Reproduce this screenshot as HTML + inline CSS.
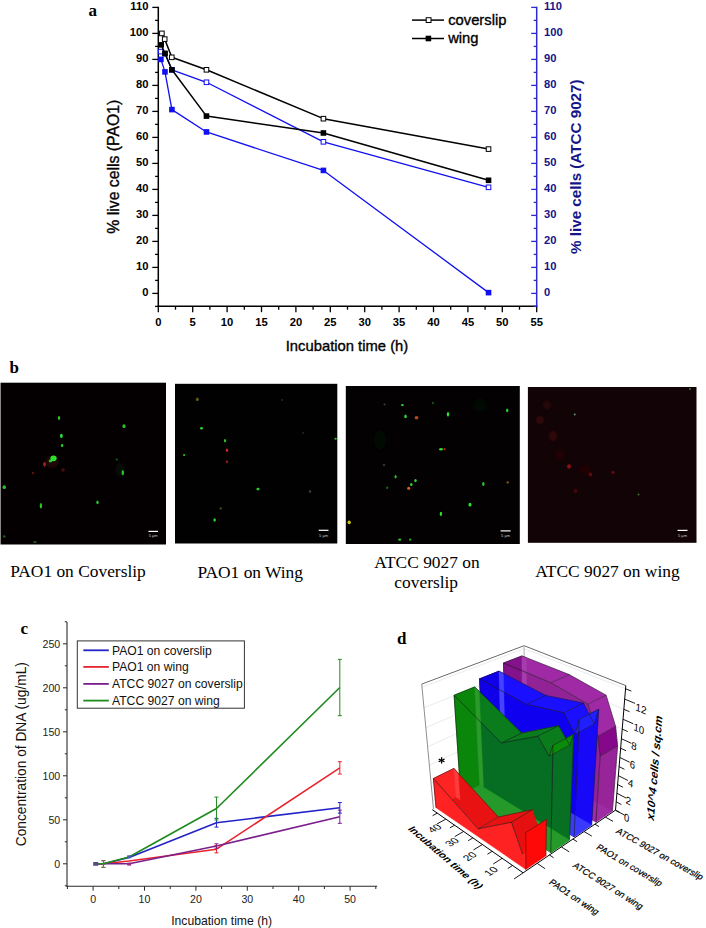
<!DOCTYPE html>
<html><head><meta charset="utf-8"><style>
html,body{margin:0;padding:0;background:#fff;}
body{width:706px;height:928px;overflow:hidden;}
svg{display:block;}
</style></head><body>
<svg width="706" height="928" viewBox="0 0 706 928">
<rect x="0" y="0" width="706" height="928" fill="#fff"/>
<text x="88.60" y="16.30" font-family="Liberation Serif, serif" font-size="17" font-weight="bold" font-style="normal" fill="#000" text-anchor="start" >a</text>
<line x1="158.30" y1="6.70" x2="158.30" y2="306.90" stroke="#000" stroke-width="1.5" />
<line x1="155.10" y1="306.40" x2="158.30" y2="306.40" stroke="#000" stroke-width="1.3" />
<line x1="152.30" y1="293.40" x2="158.30" y2="293.40" stroke="#000" stroke-width="1.3" />
<line x1="155.10" y1="280.40" x2="158.30" y2="280.40" stroke="#000" stroke-width="1.3" />
<line x1="152.30" y1="267.40" x2="158.30" y2="267.40" stroke="#000" stroke-width="1.3" />
<line x1="155.10" y1="254.40" x2="158.30" y2="254.40" stroke="#000" stroke-width="1.3" />
<line x1="152.30" y1="241.40" x2="158.30" y2="241.40" stroke="#000" stroke-width="1.3" />
<line x1="155.10" y1="228.40" x2="158.30" y2="228.40" stroke="#000" stroke-width="1.3" />
<line x1="152.30" y1="215.40" x2="158.30" y2="215.40" stroke="#000" stroke-width="1.3" />
<line x1="155.10" y1="202.40" x2="158.30" y2="202.40" stroke="#000" stroke-width="1.3" />
<line x1="152.30" y1="189.40" x2="158.30" y2="189.40" stroke="#000" stroke-width="1.3" />
<line x1="155.10" y1="176.40" x2="158.30" y2="176.40" stroke="#000" stroke-width="1.3" />
<line x1="152.30" y1="163.40" x2="158.30" y2="163.40" stroke="#000" stroke-width="1.3" />
<line x1="155.10" y1="150.40" x2="158.30" y2="150.40" stroke="#000" stroke-width="1.3" />
<line x1="152.30" y1="137.40" x2="158.30" y2="137.40" stroke="#000" stroke-width="1.3" />
<line x1="155.10" y1="124.40" x2="158.30" y2="124.40" stroke="#000" stroke-width="1.3" />
<line x1="152.30" y1="111.40" x2="158.30" y2="111.40" stroke="#000" stroke-width="1.3" />
<line x1="155.10" y1="98.40" x2="158.30" y2="98.40" stroke="#000" stroke-width="1.3" />
<line x1="152.30" y1="85.40" x2="158.30" y2="85.40" stroke="#000" stroke-width="1.3" />
<line x1="155.10" y1="72.40" x2="158.30" y2="72.40" stroke="#000" stroke-width="1.3" />
<line x1="152.30" y1="59.40" x2="158.30" y2="59.40" stroke="#000" stroke-width="1.3" />
<line x1="155.10" y1="46.40" x2="158.30" y2="46.40" stroke="#000" stroke-width="1.3" />
<line x1="152.30" y1="33.40" x2="158.30" y2="33.40" stroke="#000" stroke-width="1.3" />
<line x1="155.10" y1="20.40" x2="158.30" y2="20.40" stroke="#000" stroke-width="1.3" />
<line x1="152.30" y1="7.40" x2="158.30" y2="7.40" stroke="#000" stroke-width="1.3" />
<text x="148.40" y="295.80" font-family="Liberation Sans, sans-serif" font-size="11.2" font-weight="bold" font-style="normal" fill="#000" text-anchor="end" >0</text>
<text x="148.40" y="269.80" font-family="Liberation Sans, sans-serif" font-size="11.2" font-weight="bold" font-style="normal" fill="#000" text-anchor="end" >10</text>
<text x="148.40" y="243.80" font-family="Liberation Sans, sans-serif" font-size="11.2" font-weight="bold" font-style="normal" fill="#000" text-anchor="end" >20</text>
<text x="148.40" y="217.80" font-family="Liberation Sans, sans-serif" font-size="11.2" font-weight="bold" font-style="normal" fill="#000" text-anchor="end" >30</text>
<text x="148.40" y="191.80" font-family="Liberation Sans, sans-serif" font-size="11.2" font-weight="bold" font-style="normal" fill="#000" text-anchor="end" >40</text>
<text x="148.40" y="165.80" font-family="Liberation Sans, sans-serif" font-size="11.2" font-weight="bold" font-style="normal" fill="#000" text-anchor="end" >50</text>
<text x="148.40" y="139.80" font-family="Liberation Sans, sans-serif" font-size="11.2" font-weight="bold" font-style="normal" fill="#000" text-anchor="end" >60</text>
<text x="148.40" y="113.80" font-family="Liberation Sans, sans-serif" font-size="11.2" font-weight="bold" font-style="normal" fill="#000" text-anchor="end" >70</text>
<text x="148.40" y="87.80" font-family="Liberation Sans, sans-serif" font-size="11.2" font-weight="bold" font-style="normal" fill="#000" text-anchor="end" >80</text>
<text x="148.40" y="61.80" font-family="Liberation Sans, sans-serif" font-size="11.2" font-weight="bold" font-style="normal" fill="#000" text-anchor="end" >90</text>
<text x="148.40" y="35.80" font-family="Liberation Sans, sans-serif" font-size="11.2" font-weight="bold" font-style="normal" fill="#000" text-anchor="end" >100</text>
<text x="148.40" y="9.80" font-family="Liberation Sans, sans-serif" font-size="11.2" font-weight="bold" font-style="normal" fill="#000" text-anchor="end" >110</text>
<line x1="157.60" y1="306.20" x2="537.40" y2="306.20" stroke="#000" stroke-width="1.5" />
<line x1="158.30" y1="306.20" x2="158.30" y2="312.20" stroke="#000" stroke-width="1.3" />
<line x1="175.50" y1="306.20" x2="175.50" y2="309.70" stroke="#000" stroke-width="1.3" />
<line x1="192.70" y1="306.20" x2="192.70" y2="312.20" stroke="#000" stroke-width="1.3" />
<line x1="209.90" y1="306.20" x2="209.90" y2="309.70" stroke="#000" stroke-width="1.3" />
<line x1="227.10" y1="306.20" x2="227.10" y2="312.20" stroke="#000" stroke-width="1.3" />
<line x1="244.30" y1="306.20" x2="244.30" y2="309.70" stroke="#000" stroke-width="1.3" />
<line x1="261.50" y1="306.20" x2="261.50" y2="312.20" stroke="#000" stroke-width="1.3" />
<line x1="278.70" y1="306.20" x2="278.70" y2="309.70" stroke="#000" stroke-width="1.3" />
<line x1="295.90" y1="306.20" x2="295.90" y2="312.20" stroke="#000" stroke-width="1.3" />
<line x1="313.10" y1="306.20" x2="313.10" y2="309.70" stroke="#000" stroke-width="1.3" />
<line x1="330.30" y1="306.20" x2="330.30" y2="312.20" stroke="#000" stroke-width="1.3" />
<line x1="347.50" y1="306.20" x2="347.50" y2="309.70" stroke="#000" stroke-width="1.3" />
<line x1="364.70" y1="306.20" x2="364.70" y2="312.20" stroke="#000" stroke-width="1.3" />
<line x1="381.90" y1="306.20" x2="381.90" y2="309.70" stroke="#000" stroke-width="1.3" />
<line x1="399.10" y1="306.20" x2="399.10" y2="312.20" stroke="#000" stroke-width="1.3" />
<line x1="416.30" y1="306.20" x2="416.30" y2="309.70" stroke="#000" stroke-width="1.3" />
<line x1="433.50" y1="306.20" x2="433.50" y2="312.20" stroke="#000" stroke-width="1.3" />
<line x1="450.70" y1="306.20" x2="450.70" y2="309.70" stroke="#000" stroke-width="1.3" />
<line x1="467.90" y1="306.20" x2="467.90" y2="312.20" stroke="#000" stroke-width="1.3" />
<line x1="485.10" y1="306.20" x2="485.10" y2="309.70" stroke="#000" stroke-width="1.3" />
<line x1="502.30" y1="306.20" x2="502.30" y2="312.20" stroke="#000" stroke-width="1.3" />
<line x1="519.50" y1="306.20" x2="519.50" y2="309.70" stroke="#000" stroke-width="1.3" />
<line x1="536.70" y1="306.20" x2="536.70" y2="312.20" stroke="#000" stroke-width="1.3" />
<text x="158.30" y="325.60" font-family="Liberation Sans, sans-serif" font-size="11.2" font-weight="bold" font-style="normal" fill="#000" text-anchor="middle" >0</text>
<text x="192.70" y="325.60" font-family="Liberation Sans, sans-serif" font-size="11.2" font-weight="bold" font-style="normal" fill="#000" text-anchor="middle" >5</text>
<text x="227.10" y="325.60" font-family="Liberation Sans, sans-serif" font-size="11.2" font-weight="bold" font-style="normal" fill="#000" text-anchor="middle" >10</text>
<text x="261.50" y="325.60" font-family="Liberation Sans, sans-serif" font-size="11.2" font-weight="bold" font-style="normal" fill="#000" text-anchor="middle" >15</text>
<text x="295.90" y="325.60" font-family="Liberation Sans, sans-serif" font-size="11.2" font-weight="bold" font-style="normal" fill="#000" text-anchor="middle" >20</text>
<text x="330.30" y="325.60" font-family="Liberation Sans, sans-serif" font-size="11.2" font-weight="bold" font-style="normal" fill="#000" text-anchor="middle" >25</text>
<text x="364.70" y="325.60" font-family="Liberation Sans, sans-serif" font-size="11.2" font-weight="bold" font-style="normal" fill="#000" text-anchor="middle" >30</text>
<text x="399.10" y="325.60" font-family="Liberation Sans, sans-serif" font-size="11.2" font-weight="bold" font-style="normal" fill="#000" text-anchor="middle" >35</text>
<text x="433.50" y="325.60" font-family="Liberation Sans, sans-serif" font-size="11.2" font-weight="bold" font-style="normal" fill="#000" text-anchor="middle" >40</text>
<text x="467.90" y="325.60" font-family="Liberation Sans, sans-serif" font-size="11.2" font-weight="bold" font-style="normal" fill="#000" text-anchor="middle" >45</text>
<text x="502.30" y="325.60" font-family="Liberation Sans, sans-serif" font-size="11.2" font-weight="bold" font-style="normal" fill="#000" text-anchor="middle" >50</text>
<text x="536.70" y="325.60" font-family="Liberation Sans, sans-serif" font-size="11.2" font-weight="bold" font-style="normal" fill="#000" text-anchor="middle" >55</text>
<line x1="536.70" y1="6.70" x2="536.70" y2="306.20" stroke="#2a2ad0" stroke-width="1.5" />
<line x1="533.70" y1="306.40" x2="536.70" y2="306.40" stroke="#2a2ad0" stroke-width="1.3" />
<line x1="531.20" y1="293.40" x2="536.70" y2="293.40" stroke="#2a2ad0" stroke-width="1.3" />
<line x1="533.70" y1="280.40" x2="536.70" y2="280.40" stroke="#2a2ad0" stroke-width="1.3" />
<line x1="531.20" y1="267.40" x2="536.70" y2="267.40" stroke="#2a2ad0" stroke-width="1.3" />
<line x1="533.70" y1="254.40" x2="536.70" y2="254.40" stroke="#2a2ad0" stroke-width="1.3" />
<line x1="531.20" y1="241.40" x2="536.70" y2="241.40" stroke="#2a2ad0" stroke-width="1.3" />
<line x1="533.70" y1="228.40" x2="536.70" y2="228.40" stroke="#2a2ad0" stroke-width="1.3" />
<line x1="531.20" y1="215.40" x2="536.70" y2="215.40" stroke="#2a2ad0" stroke-width="1.3" />
<line x1="533.70" y1="202.40" x2="536.70" y2="202.40" stroke="#2a2ad0" stroke-width="1.3" />
<line x1="531.20" y1="189.40" x2="536.70" y2="189.40" stroke="#2a2ad0" stroke-width="1.3" />
<line x1="533.70" y1="176.40" x2="536.70" y2="176.40" stroke="#2a2ad0" stroke-width="1.3" />
<line x1="531.20" y1="163.40" x2="536.70" y2="163.40" stroke="#2a2ad0" stroke-width="1.3" />
<line x1="533.70" y1="150.40" x2="536.70" y2="150.40" stroke="#2a2ad0" stroke-width="1.3" />
<line x1="531.20" y1="137.40" x2="536.70" y2="137.40" stroke="#2a2ad0" stroke-width="1.3" />
<line x1="533.70" y1="124.40" x2="536.70" y2="124.40" stroke="#2a2ad0" stroke-width="1.3" />
<line x1="531.20" y1="111.40" x2="536.70" y2="111.40" stroke="#2a2ad0" stroke-width="1.3" />
<line x1="533.70" y1="98.40" x2="536.70" y2="98.40" stroke="#2a2ad0" stroke-width="1.3" />
<line x1="531.20" y1="85.40" x2="536.70" y2="85.40" stroke="#2a2ad0" stroke-width="1.3" />
<line x1="533.70" y1="72.40" x2="536.70" y2="72.40" stroke="#2a2ad0" stroke-width="1.3" />
<line x1="531.20" y1="59.40" x2="536.70" y2="59.40" stroke="#2a2ad0" stroke-width="1.3" />
<line x1="533.70" y1="46.40" x2="536.70" y2="46.40" stroke="#2a2ad0" stroke-width="1.3" />
<line x1="531.20" y1="33.40" x2="536.70" y2="33.40" stroke="#2a2ad0" stroke-width="1.3" />
<line x1="533.70" y1="20.40" x2="536.70" y2="20.40" stroke="#2a2ad0" stroke-width="1.3" />
<line x1="531.20" y1="7.40" x2="536.70" y2="7.40" stroke="#2a2ad0" stroke-width="1.3" />
<text x="544.00" y="295.50" font-family="Liberation Sans, sans-serif" font-size="11.2" font-weight="bold" font-style="normal" fill="#15158a" text-anchor="start" >0</text>
<text x="544.00" y="269.50" font-family="Liberation Sans, sans-serif" font-size="11.2" font-weight="bold" font-style="normal" fill="#15158a" text-anchor="start" >10</text>
<text x="544.00" y="243.50" font-family="Liberation Sans, sans-serif" font-size="11.2" font-weight="bold" font-style="normal" fill="#15158a" text-anchor="start" >20</text>
<text x="544.00" y="217.50" font-family="Liberation Sans, sans-serif" font-size="11.2" font-weight="bold" font-style="normal" fill="#15158a" text-anchor="start" >30</text>
<text x="544.00" y="191.50" font-family="Liberation Sans, sans-serif" font-size="11.2" font-weight="bold" font-style="normal" fill="#15158a" text-anchor="start" >40</text>
<text x="544.00" y="165.50" font-family="Liberation Sans, sans-serif" font-size="11.2" font-weight="bold" font-style="normal" fill="#15158a" text-anchor="start" >50</text>
<text x="544.00" y="139.50" font-family="Liberation Sans, sans-serif" font-size="11.2" font-weight="bold" font-style="normal" fill="#15158a" text-anchor="start" >60</text>
<text x="544.00" y="113.50" font-family="Liberation Sans, sans-serif" font-size="11.2" font-weight="bold" font-style="normal" fill="#15158a" text-anchor="start" >70</text>
<text x="544.00" y="87.50" font-family="Liberation Sans, sans-serif" font-size="11.2" font-weight="bold" font-style="normal" fill="#15158a" text-anchor="start" >80</text>
<text x="544.00" y="61.50" font-family="Liberation Sans, sans-serif" font-size="11.2" font-weight="bold" font-style="normal" fill="#15158a" text-anchor="start" >90</text>
<text x="544.00" y="35.50" font-family="Liberation Sans, sans-serif" font-size="11.2" font-weight="bold" font-style="normal" fill="#15158a" text-anchor="start" >100</text>
<text x="544.00" y="9.50" font-family="Liberation Sans, sans-serif" font-size="11.2" font-weight="bold" font-style="normal" fill="#15158a" text-anchor="start" >110</text>
<text x="0.00" y="0.00" font-family="Liberation Sans, sans-serif" font-size="15.8" font-weight="normal" font-style="normal" fill="#000" text-anchor="middle" stroke="#000" stroke-width="0.35" transform="translate(119.3,166.7) rotate(-90)">% live cells (PAO1)</text>
<text x="0.00" y="0.00" font-family="Liberation Sans, sans-serif" font-size="15.2" font-weight="bold" font-style="normal" fill="#15158a" text-anchor="middle" transform="translate(580.7,166.7) rotate(-90)">% live cells (ATCC 9027)</text>
<text x="347.00" y="350.60" font-family="Liberation Sans, sans-serif" font-size="14.8" font-weight="normal" font-style="normal" fill="#000" text-anchor="middle" stroke="#000" stroke-width="0.35">Incubation time (h)</text>
<polyline points="160.71,51.60 164.97,53.68 171.92,69.80 206.46,82.28 323.42,141.82 488.54,187.32" fill="none" stroke="#1010f0" stroke-width="1.3" stroke-linejoin="round" />
<rect x="158.41" y="49.30" width="4.6" height="4.6" fill="#fff" stroke="#1010f0" stroke-width="1"/>
<rect x="162.67" y="51.38" width="4.6" height="4.6" fill="#fff" stroke="#1010f0" stroke-width="1"/>
<rect x="169.62" y="67.50" width="4.6" height="4.6" fill="#fff" stroke="#1010f0" stroke-width="1"/>
<rect x="204.16" y="79.98" width="4.6" height="4.6" fill="#fff" stroke="#1010f0" stroke-width="1"/>
<rect x="321.12" y="139.52" width="4.6" height="4.6" fill="#fff" stroke="#1010f0" stroke-width="1"/>
<rect x="486.24" y="185.02" width="4.6" height="4.6" fill="#fff" stroke="#1010f0" stroke-width="1"/>
<polyline points="160.91,59.40 164.97,71.88 171.92,109.58 206.46,131.94 323.42,170.42 488.54,292.62" fill="none" stroke="#1010f0" stroke-width="1.3" stroke-linejoin="round" />
<rect x="158.11" y="56.60" width="5.6" height="5.6" fill="#1010f0"/>
<rect x="162.17" y="69.08" width="5.6" height="5.6" fill="#1010f0"/>
<rect x="169.12" y="106.78" width="5.6" height="5.6" fill="#1010f0"/>
<rect x="203.66" y="129.14" width="5.6" height="5.6" fill="#1010f0"/>
<rect x="320.62" y="167.62" width="5.6" height="5.6" fill="#1010f0"/>
<rect x="485.74" y="289.82" width="5.6" height="5.6" fill="#1010f0"/>
<polyline points="161.88,33.40 164.70,39.12 171.78,57.32 206.46,69.80 323.42,118.68 488.54,149.10" fill="none" stroke="#000" stroke-width="1.5" stroke-linejoin="round" />
<rect x="159.58" y="31.10" width="4.6" height="4.6" fill="#fff" stroke="#000" stroke-width="1"/>
<rect x="162.40" y="36.82" width="4.6" height="4.6" fill="#fff" stroke="#000" stroke-width="1"/>
<rect x="169.48" y="55.02" width="4.6" height="4.6" fill="#fff" stroke="#000" stroke-width="1"/>
<rect x="204.16" y="67.50" width="4.6" height="4.6" fill="#fff" stroke="#000" stroke-width="1"/>
<rect x="321.12" y="116.38" width="4.6" height="4.6" fill="#fff" stroke="#000" stroke-width="1"/>
<rect x="486.24" y="146.80" width="4.6" height="4.6" fill="#fff" stroke="#000" stroke-width="1"/>
<polyline points="161.19,44.84 164.97,53.42 171.92,69.80 206.46,116.08 323.42,132.98 488.54,180.30" fill="none" stroke="#000" stroke-width="1.5" stroke-linejoin="round" />
<rect x="158.39" y="42.04" width="5.6" height="5.6" fill="#000"/>
<rect x="162.17" y="50.62" width="5.6" height="5.6" fill="#000"/>
<rect x="169.12" y="67.00" width="5.6" height="5.6" fill="#000"/>
<rect x="203.66" y="113.28" width="5.6" height="5.6" fill="#000"/>
<rect x="320.62" y="130.18" width="5.6" height="5.6" fill="#000"/>
<rect x="485.74" y="177.50" width="5.6" height="5.6" fill="#000"/>
<line x1="412.00" y1="20.10" x2="444.00" y2="20.10" stroke="#000" stroke-width="1.5" />
<rect x="426.2" y="17.7" width="4.8" height="4.8" fill="#fff" stroke="#000" stroke-width="1"/>
<line x1="412.00" y1="38.50" x2="444.00" y2="38.50" stroke="#000" stroke-width="1.5" />
<rect x="425.6" y="35.7" width="5.6" height="5.6" fill="#000"/>
<text x="448.20" y="24.50" font-family="Liberation Sans, sans-serif" font-size="14.75" font-weight="normal" font-style="normal" fill="#000" text-anchor="start" stroke="#000" stroke-width="0.35">coverslip</text>
<text x="448.20" y="42.90" font-family="Liberation Sans, sans-serif" font-size="14.75" font-weight="normal" font-style="normal" fill="#000" text-anchor="start" stroke="#000" stroke-width="0.35">wing</text>
<text x="9.40" y="372.70" font-family="Liberation Serif, serif" font-size="17" font-weight="bold" font-style="normal" fill="#000" text-anchor="start" >b</text>
<defs><filter id="bl" x="-50%" y="-50%" width="200%" height="200%"><feGaussianBlur stdDeviation="0.7"/></filter><filter id="bl2" x="-50%" y="-50%" width="200%" height="200%"><feGaussianBlur stdDeviation="1.2"/></filter><filter id="bl6" x="-50%" y="-50%" width="200%" height="200%"><feGaussianBlur stdDeviation="6"/></filter></defs>
<line x1="0.50" y1="382.70" x2="0.50" y2="544.50" stroke="#888" stroke-width="1" />
<rect x="1" y="382.7" width="165" height="161.8" fill="#040002"/>
<rect x="175" y="383.8" width="162.3" height="159.7" fill="#020101"/>
<rect x="345.8" y="386" width="173.99999999999994" height="158" fill="#030102"/>
<rect x="527.9" y="387" width="168.60000000000002" height="155.79999999999995" fill="#120306"/>
<ellipse cx="540" cy="420" rx="4.20" ry="4.20" fill="#4a0808" opacity="0.55" filter="url(#bl2)"/>
<ellipse cx="553" cy="436" rx="4.20" ry="5.40" fill="#4a0808" opacity="0.50" filter="url(#bl2)"/>
<ellipse cx="547" cy="405" rx="4.20" ry="4.20" fill="#3a0808" opacity="0.50" filter="url(#bl2)"/>
<ellipse cx="560" cy="455" rx="4.80" ry="4.80" fill="#3a0606" opacity="0.44" filter="url(#bl2)"/>
<ellipse cx="585" cy="470" rx="6.00" ry="4.80" fill="#300505" opacity="0.44" filter="url(#bl2)"/>
<ellipse cx="52" cy="462" rx="7.20" ry="6.00" fill="#301008" opacity="0.55" filter="url(#bl2)"/>
<ellipse cx="120" cy="470" rx="4.80" ry="7.20" fill="#081a08" opacity="0.44" filter="url(#bl2)"/>
<ellipse cx="380" cy="440" rx="6.00" ry="9.60" fill="#061806" opacity="0.44" filter="url(#bl2)"/>
<ellipse cx="480" cy="405" rx="7.20" ry="7.20" fill="#061406" opacity="0.39" filter="url(#bl2)"/>
<ellipse cx="59" cy="418" rx="1.20" ry="1.92" fill="#2ee02e" opacity="0.88" filter="url(#bl)"/>
<ellipse cx="61.4" cy="435.9" rx="1.44" ry="2.16" fill="#2ee02e" opacity="0.99" filter="url(#bl)"/>
<ellipse cx="62.1" cy="445.5" rx="1.20" ry="1.68" fill="#2ee02e" opacity="0.88" filter="url(#bl)"/>
<ellipse cx="53.5" cy="458.3" rx="3.12" ry="2.88" fill="#2ee02e" opacity="1.00" filter="url(#bl)"/>
<ellipse cx="50.5" cy="461" rx="1.80" ry="1.44" fill="#2ee02e" opacity="0.88" filter="url(#bl)"/>
<ellipse cx="44.5" cy="464.3" rx="1.44" ry="2.40" fill="#d02a20" opacity="0.77" filter="url(#bl)"/>
<ellipse cx="124" cy="426.2" rx="1.56" ry="1.92" fill="#2ee02e" opacity="0.88" filter="url(#bl)"/>
<ellipse cx="116.8" cy="459.5" rx="1.08" ry="1.08" fill="#2ee02e" opacity="0.44" filter="url(#bl)"/>
<ellipse cx="122.8" cy="472.7" rx="1.20" ry="2.64" fill="#2ee02e" opacity="0.88" filter="url(#bl)"/>
<ellipse cx="4.3" cy="487.2" rx="1.68" ry="1.92" fill="#2ee02e" opacity="0.88" filter="url(#bl)"/>
<ellipse cx="40.9" cy="505.7" rx="1.20" ry="2.76" fill="#2ee02e" opacity="0.88" filter="url(#bl)"/>
<ellipse cx="97.5" cy="502.3" rx="1.20" ry="1.92" fill="#2ee02e" opacity="0.88" filter="url(#bl)"/>
<ellipse cx="4.3" cy="536.5" rx="1.20" ry="1.20" fill="#2ee02e" opacity="0.44" filter="url(#bl)"/>
<ellipse cx="34.9" cy="542" rx="1.80" ry="0.96" fill="#2ee02e" opacity="0.44" filter="url(#bl)"/>
<ellipse cx="33" cy="473" rx="1.20" ry="1.20" fill="#d02a20" opacity="0.44" filter="url(#bl)"/>
<ellipse cx="63" cy="470" rx="1.80" ry="1.80" fill="#d02a20" opacity="0.33" filter="url(#bl)"/>
<ellipse cx="197.3" cy="399.3" rx="1.44" ry="1.92" fill="#b0a020" opacity="0.55" filter="url(#bl)"/>
<ellipse cx="201.5" cy="428.3" rx="1.44" ry="1.32" fill="#2ee02e" opacity="0.99" filter="url(#bl)"/>
<ellipse cx="225" cy="440.7" rx="1.08" ry="1.68" fill="#2ee02e" opacity="0.88" filter="url(#bl)"/>
<ellipse cx="227" cy="450.2" rx="1.20" ry="1.80" fill="#d02a20" opacity="0.99" filter="url(#bl)"/>
<ellipse cx="227" cy="461.8" rx="1.20" ry="1.56" fill="#d02a20" opacity="0.66" filter="url(#bl)"/>
<ellipse cx="184.1" cy="455.1" rx="1.08" ry="1.08" fill="#2ee02e" opacity="0.88" filter="url(#bl)"/>
<ellipse cx="335.6" cy="438.8" rx="1.20" ry="0.96" fill="#2ee02e" opacity="0.88" filter="url(#bl)"/>
<ellipse cx="258" cy="489.1" rx="1.68" ry="1.32" fill="#2ee02e" opacity="0.88" filter="url(#bl)"/>
<ellipse cx="310" cy="491.5" rx="1.20" ry="1.20" fill="#888" opacity="0.44" filter="url(#bl)"/>
<ellipse cx="214.6" cy="520" rx="1.20" ry="1.68" fill="#2ee02e" opacity="0.99" filter="url(#bl)"/>
<ellipse cx="220.8" cy="508.4" rx="1.20" ry="1.20" fill="#b0a020" opacity="0.44" filter="url(#bl)"/>
<ellipse cx="282" cy="400" rx="0.96" ry="0.96" fill="#777" opacity="0.33" filter="url(#bl)"/>
<ellipse cx="303" cy="433" rx="0.96" ry="0.96" fill="#777" opacity="0.33" filter="url(#bl)"/>
<ellipse cx="402.4" cy="405.1" rx="1.56" ry="1.08" fill="#2ee02e" opacity="0.88" filter="url(#bl)"/>
<ellipse cx="405.5" cy="416.4" rx="1.20" ry="1.92" fill="#2ee02e" opacity="0.99" filter="url(#bl)"/>
<ellipse cx="416.5" cy="417.7" rx="1.92" ry="1.80" fill="#d05020" opacity="0.88" filter="url(#bl)"/>
<ellipse cx="448" cy="414.3" rx="1.20" ry="2.40" fill="#2ee02e" opacity="0.99" filter="url(#bl)"/>
<ellipse cx="507.2" cy="410.4" rx="1.20" ry="1.92" fill="#2ee02e" opacity="0.88" filter="url(#bl)"/>
<ellipse cx="441" cy="449.2" rx="1.92" ry="1.32" fill="#2ee02e" opacity="0.99" filter="url(#bl)"/>
<ellipse cx="444.5" cy="449.2" rx="1.08" ry="1.08" fill="#d02a20" opacity="0.88" filter="url(#bl)"/>
<ellipse cx="395.6" cy="476.7" rx="1.08" ry="1.80" fill="#2ee02e" opacity="0.88" filter="url(#bl)"/>
<ellipse cx="415.5" cy="480.6" rx="1.20" ry="1.56" fill="#2ee02e" opacity="0.99" filter="url(#bl)"/>
<ellipse cx="411.3" cy="484.5" rx="1.20" ry="1.56" fill="#2ee02e" opacity="0.99" filter="url(#bl)"/>
<ellipse cx="408.7" cy="488.2" rx="1.56" ry="1.56" fill="#e06020" opacity="0.99" filter="url(#bl)"/>
<ellipse cx="387.2" cy="487.7" rx="1.20" ry="1.20" fill="#2ee02e" opacity="0.44" filter="url(#bl)"/>
<ellipse cx="483.3" cy="484" rx="1.20" ry="1.92" fill="#2ee02e" opacity="0.88" filter="url(#bl)"/>
<ellipse cx="507.7" cy="482.4" rx="1.20" ry="1.20" fill="#c08020" opacity="0.66" filter="url(#bl)"/>
<ellipse cx="470" cy="504.7" rx="1.56" ry="1.92" fill="#2ee02e" opacity="0.99" filter="url(#bl)"/>
<ellipse cx="440.9" cy="513.9" rx="1.20" ry="2.16" fill="#2ee02e" opacity="0.99" filter="url(#bl)"/>
<ellipse cx="349.2" cy="522.3" rx="1.68" ry="1.92" fill="#d0c020" opacity="0.99" filter="url(#bl)"/>
<ellipse cx="399.7" cy="539.6" rx="1.56" ry="1.20" fill="#2ee02e" opacity="0.88" filter="url(#bl)"/>
<ellipse cx="410.2" cy="539.6" rx="1.20" ry="1.20" fill="#2ee02e" opacity="0.77" filter="url(#bl)"/>
<ellipse cx="384.5" cy="404.4" rx="0.96" ry="0.96" fill="#999" opacity="0.44" filter="url(#bl)"/>
<ellipse cx="433" cy="403" rx="1.20" ry="1.20" fill="#2ee02e" opacity="0.33" filter="url(#bl)"/>
<ellipse cx="384" cy="465" rx="1.20" ry="1.20" fill="#999" opacity="0.33" filter="url(#bl)"/>
<ellipse cx="569" cy="466.5" rx="1.92" ry="2.16" fill="#c01818" opacity="0.72" filter="url(#bl)"/>
<ellipse cx="590.5" cy="474.5" rx="1.92" ry="1.92" fill="#a01010" opacity="0.55" filter="url(#bl)"/>
<ellipse cx="613" cy="472.5" rx="1.44" ry="1.44" fill="#a01010" opacity="0.66" filter="url(#bl)"/>
<ellipse cx="575.5" cy="491" rx="1.92" ry="1.92" fill="#801010" opacity="0.44" filter="url(#bl)"/>
<ellipse cx="574.7" cy="414.5" rx="0.96" ry="0.96" fill="#90c090" opacity="0.77" filter="url(#bl)"/>
<ellipse cx="638.5" cy="494.5" rx="1.08" ry="1.08" fill="#50a050" opacity="0.66" filter="url(#bl)"/>
<ellipse cx="690" cy="389" rx="1.08" ry="1.08" fill="#50a050" opacity="0.66" filter="url(#bl)"/>
<line x1="148.40" y1="531.40" x2="158.00" y2="531.40" stroke="#fff" stroke-width="1.2" />
<text x="153.20" y="537.00" font-family="Liberation Sans, sans-serif" font-size="4" font-weight="normal" font-style="normal" fill="#ccc" text-anchor="middle" >5 µm</text>
<line x1="318.70" y1="530.30" x2="328.50" y2="530.30" stroke="#fff" stroke-width="1.2" />
<text x="323.60" y="537.00" font-family="Liberation Sans, sans-serif" font-size="4" font-weight="normal" font-style="normal" fill="#ccc" text-anchor="middle" >5 µm</text>
<line x1="500.60" y1="530.90" x2="510.60" y2="530.90" stroke="#fff" stroke-width="1.2" />
<text x="505.60" y="537.00" font-family="Liberation Sans, sans-serif" font-size="4" font-weight="normal" font-style="normal" fill="#ccc" text-anchor="middle" >5 µm</text>
<line x1="677.50" y1="530.40" x2="687.50" y2="530.40" stroke="#fff" stroke-width="1.2" />
<text x="682.50" y="537.00" font-family="Liberation Sans, sans-serif" font-size="4" font-weight="normal" font-style="normal" fill="#ccc" text-anchor="middle" >5 µm</text>
<text x="10.20" y="576.60" font-family="Liberation Serif, serif" font-size="17.4" font-weight="normal" font-style="normal" fill="#000" text-anchor="start" >PAO1 on Coverslip</text>
<text x="197.40" y="577.60" font-family="Liberation Serif, serif" font-size="17.4" font-weight="normal" font-style="normal" fill="#000" text-anchor="start" >PAO1 on Wing</text>
<text x="427.00" y="568.20" font-family="Liberation Serif, serif" font-size="17.4" font-weight="normal" font-style="normal" fill="#000" text-anchor="middle" >ATCC 9027 on</text>
<text x="426.20" y="588.20" font-family="Liberation Serif, serif" font-size="17.4" font-weight="normal" font-style="normal" fill="#000" text-anchor="middle" >coverslip</text>
<text x="535.20" y="577.20" font-family="Liberation Serif, serif" font-size="17.4" font-weight="normal" font-style="normal" fill="#000" text-anchor="start" >ATCC 9027 on wing</text>
<text x="20.60" y="633.80" font-family="Liberation Serif, serif" font-size="17" font-weight="bold" font-style="normal" fill="#000" text-anchor="start" >c</text>
<line x1="67.00" y1="621.90" x2="67.00" y2="886.70" stroke="#2a2a2a" stroke-width="1.1" />
<line x1="66.50" y1="886.20" x2="377.20" y2="886.20" stroke="#2a2a2a" stroke-width="1.1" />
<line x1="64.80" y1="885.80" x2="67.00" y2="885.80" stroke="#2a2a2a" stroke-width="1" />
<line x1="63.00" y1="863.80" x2="67.00" y2="863.80" stroke="#2a2a2a" stroke-width="1" />
<line x1="64.80" y1="841.80" x2="67.00" y2="841.80" stroke="#2a2a2a" stroke-width="1" />
<line x1="63.00" y1="819.80" x2="67.00" y2="819.80" stroke="#2a2a2a" stroke-width="1" />
<line x1="64.80" y1="797.80" x2="67.00" y2="797.80" stroke="#2a2a2a" stroke-width="1" />
<line x1="63.00" y1="775.80" x2="67.00" y2="775.80" stroke="#2a2a2a" stroke-width="1" />
<line x1="64.80" y1="753.80" x2="67.00" y2="753.80" stroke="#2a2a2a" stroke-width="1" />
<line x1="63.00" y1="731.80" x2="67.00" y2="731.80" stroke="#2a2a2a" stroke-width="1" />
<line x1="64.80" y1="709.80" x2="67.00" y2="709.80" stroke="#2a2a2a" stroke-width="1" />
<line x1="63.00" y1="687.80" x2="67.00" y2="687.80" stroke="#2a2a2a" stroke-width="1" />
<line x1="64.80" y1="665.80" x2="67.00" y2="665.80" stroke="#2a2a2a" stroke-width="1" />
<line x1="63.00" y1="643.80" x2="67.00" y2="643.80" stroke="#2a2a2a" stroke-width="1" />
<line x1="64.80" y1="621.80" x2="67.00" y2="621.80" stroke="#2a2a2a" stroke-width="1" />
<text x="60.20" y="867.50" font-family="Liberation Sans, sans-serif" font-size="10.6" font-weight="normal" font-style="normal" fill="#222" text-anchor="end" >0</text>
<text x="60.20" y="823.50" font-family="Liberation Sans, sans-serif" font-size="10.6" font-weight="normal" font-style="normal" fill="#222" text-anchor="end" >50</text>
<text x="60.20" y="779.50" font-family="Liberation Sans, sans-serif" font-size="10.6" font-weight="normal" font-style="normal" fill="#222" text-anchor="end" >100</text>
<text x="60.20" y="735.50" font-family="Liberation Sans, sans-serif" font-size="10.6" font-weight="normal" font-style="normal" fill="#222" text-anchor="end" >150</text>
<text x="60.20" y="691.50" font-family="Liberation Sans, sans-serif" font-size="10.6" font-weight="normal" font-style="normal" fill="#222" text-anchor="end" >200</text>
<text x="60.20" y="647.50" font-family="Liberation Sans, sans-serif" font-size="10.6" font-weight="normal" font-style="normal" fill="#222" text-anchor="end" >250</text>
<line x1="67.40" y1="886.20" x2="67.40" y2="889.00" stroke="#2a2a2a" stroke-width="1" />
<line x1="93.10" y1="886.20" x2="93.10" y2="890.70" stroke="#2a2a2a" stroke-width="1" />
<line x1="118.80" y1="886.20" x2="118.80" y2="889.00" stroke="#2a2a2a" stroke-width="1" />
<line x1="144.50" y1="886.20" x2="144.50" y2="890.70" stroke="#2a2a2a" stroke-width="1" />
<line x1="170.20" y1="886.20" x2="170.20" y2="889.00" stroke="#2a2a2a" stroke-width="1" />
<line x1="195.90" y1="886.20" x2="195.90" y2="890.70" stroke="#2a2a2a" stroke-width="1" />
<line x1="221.60" y1="886.20" x2="221.60" y2="889.00" stroke="#2a2a2a" stroke-width="1" />
<line x1="247.30" y1="886.20" x2="247.30" y2="890.70" stroke="#2a2a2a" stroke-width="1" />
<line x1="273.00" y1="886.20" x2="273.00" y2="889.00" stroke="#2a2a2a" stroke-width="1" />
<line x1="298.70" y1="886.20" x2="298.70" y2="890.70" stroke="#2a2a2a" stroke-width="1" />
<line x1="324.40" y1="886.20" x2="324.40" y2="889.00" stroke="#2a2a2a" stroke-width="1" />
<line x1="350.10" y1="886.20" x2="350.10" y2="890.70" stroke="#2a2a2a" stroke-width="1" />
<line x1="375.80" y1="886.20" x2="375.80" y2="889.00" stroke="#2a2a2a" stroke-width="1" />
<text x="93.10" y="903.40" font-family="Liberation Sans, sans-serif" font-size="10.6" font-weight="normal" font-style="normal" fill="#222" text-anchor="middle" >0</text>
<text x="144.50" y="903.40" font-family="Liberation Sans, sans-serif" font-size="10.6" font-weight="normal" font-style="normal" fill="#222" text-anchor="middle" >10</text>
<text x="195.90" y="903.40" font-family="Liberation Sans, sans-serif" font-size="10.6" font-weight="normal" font-style="normal" fill="#222" text-anchor="middle" >20</text>
<text x="247.30" y="903.40" font-family="Liberation Sans, sans-serif" font-size="10.6" font-weight="normal" font-style="normal" fill="#222" text-anchor="middle" >30</text>
<text x="298.70" y="903.40" font-family="Liberation Sans, sans-serif" font-size="10.6" font-weight="normal" font-style="normal" fill="#222" text-anchor="middle" >40</text>
<text x="350.10" y="903.40" font-family="Liberation Sans, sans-serif" font-size="10.6" font-weight="normal" font-style="normal" fill="#222" text-anchor="middle" >50</text>
<text x="0.00" y="0.00" font-family="Liberation Sans, sans-serif" font-size="13.75" font-weight="normal" font-style="normal" fill="#111" text-anchor="middle" transform="translate(26,754.2) rotate(-90)">Concentration of DNA (ug/mL)</text>
<text x="221.60" y="925.20" font-family="Liberation Sans, sans-serif" font-size="12.2" font-weight="normal" font-style="normal" fill="#111" text-anchor="middle" >Incubation time (h)</text>
<polyline points="95.67,863.80 103.38,863.80 129.08,857.46 216.46,822.70 339.82,807.83" fill="none" stroke="#2323c8" stroke-width="1.6" stroke-linejoin="round" />
<polyline points="95.67,863.80 103.38,863.80 129.08,860.98 216.46,849.19 339.82,767.88" fill="none" stroke="#e8232d" stroke-width="1.6" stroke-linejoin="round" />
<polyline points="95.67,863.80 103.38,863.80 129.08,863.80 216.46,846.02 339.82,816.72" fill="none" stroke="#7a1f8c" stroke-width="1.6" stroke-linejoin="round" />
<polyline points="95.67,863.80 103.38,863.80 129.08,857.02 216.46,808.54 339.82,687.54" fill="none" stroke="#1f8a1f" stroke-width="1.6" stroke-linejoin="round" />
<line x1="216.46" y1="818.30" x2="216.46" y2="827.10" stroke="#2323c8" stroke-width="1" />
<line x1="214.46" y1="818.30" x2="218.46" y2="818.30" stroke="#2323c8" stroke-width="1" />
<line x1="214.46" y1="827.10" x2="218.46" y2="827.10" stroke="#2323c8" stroke-width="1" />
<line x1="339.82" y1="802.55" x2="339.82" y2="813.11" stroke="#2323c8" stroke-width="1" />
<line x1="337.82" y1="802.55" x2="341.82" y2="802.55" stroke="#2323c8" stroke-width="1" />
<line x1="337.82" y1="813.11" x2="341.82" y2="813.11" stroke="#2323c8" stroke-width="1" />
<line x1="216.46" y1="845.50" x2="216.46" y2="852.89" stroke="#e8232d" stroke-width="1" />
<line x1="214.46" y1="845.50" x2="218.46" y2="845.50" stroke="#e8232d" stroke-width="1" />
<line x1="214.46" y1="852.89" x2="218.46" y2="852.89" stroke="#e8232d" stroke-width="1" />
<line x1="339.82" y1="761.72" x2="339.82" y2="774.04" stroke="#e8232d" stroke-width="1" />
<line x1="337.82" y1="761.72" x2="341.82" y2="761.72" stroke="#e8232d" stroke-width="1" />
<line x1="337.82" y1="774.04" x2="341.82" y2="774.04" stroke="#e8232d" stroke-width="1" />
<line x1="216.46" y1="843.82" x2="216.46" y2="848.22" stroke="#7a1f8c" stroke-width="1" />
<line x1="214.46" y1="843.82" x2="218.46" y2="843.82" stroke="#7a1f8c" stroke-width="1" />
<line x1="214.46" y1="848.22" x2="218.46" y2="848.22" stroke="#7a1f8c" stroke-width="1" />
<line x1="339.82" y1="810.12" x2="339.82" y2="823.32" stroke="#7a1f8c" stroke-width="1" />
<line x1="337.82" y1="810.12" x2="341.82" y2="810.12" stroke="#7a1f8c" stroke-width="1" />
<line x1="337.82" y1="823.32" x2="341.82" y2="823.32" stroke="#7a1f8c" stroke-width="1" />
<line x1="216.46" y1="797.10" x2="216.46" y2="819.98" stroke="#1f8a1f" stroke-width="1" />
<line x1="214.46" y1="797.10" x2="218.46" y2="797.10" stroke="#1f8a1f" stroke-width="1" />
<line x1="214.46" y1="819.98" x2="218.46" y2="819.98" stroke="#1f8a1f" stroke-width="1" />
<line x1="339.82" y1="659.38" x2="339.82" y2="715.70" stroke="#1f8a1f" stroke-width="1" />
<line x1="337.82" y1="659.38" x2="341.82" y2="659.38" stroke="#1f8a1f" stroke-width="1" />
<line x1="337.82" y1="715.70" x2="341.82" y2="715.70" stroke="#1f8a1f" stroke-width="1" />
<rect x="93.2" y="862" width="5" height="3.8" fill="#5a4a8a"/>
<line x1="103.40" y1="860.40" x2="103.40" y2="867.60" stroke="#7a6a5a" stroke-width="1.2" />
<line x1="101.20" y1="860.60" x2="105.60" y2="860.60" stroke="#7a6a5a" stroke-width="1.2" />
<line x1="101.20" y1="867.40" x2="105.60" y2="867.40" stroke="#7a6a5a" stroke-width="1.2" />
<rect x="127.2" y="855.3" width="4" height="3" fill="#4a5ab0"/>
<rect x="127.2" y="862.6" width="4" height="3" fill="#9a2a8a"/>
<rect x="77.3" y="640.9" width="167.1" height="67.3" fill="#fff" stroke="#333" stroke-width="1"/>
<line x1="83.30" y1="650.30" x2="108.80" y2="650.30" stroke="#2323c8" stroke-width="1.8" />
<text x="112.00" y="654.60" font-family="Liberation Sans, sans-serif" font-size="12.15" font-weight="normal" font-style="normal" fill="#111" text-anchor="start" >PAO1 on coverslip</text>
<line x1="83.30" y1="666.90" x2="108.80" y2="666.90" stroke="#e8232d" stroke-width="1.8" />
<text x="112.00" y="671.20" font-family="Liberation Sans, sans-serif" font-size="12.15" font-weight="normal" font-style="normal" fill="#111" text-anchor="start" >PAO1 on wing</text>
<line x1="83.30" y1="683.90" x2="108.80" y2="683.90" stroke="#7a1f8c" stroke-width="1.8" />
<text x="112.00" y="688.20" font-family="Liberation Sans, sans-serif" font-size="12.15" font-weight="normal" font-style="normal" fill="#111" text-anchor="start" >ATCC 9027 on coverslip</text>
<line x1="83.30" y1="700.60" x2="108.80" y2="700.60" stroke="#1f8a1f" stroke-width="1.8" />
<text x="112.00" y="704.90" font-family="Liberation Sans, sans-serif" font-size="12.15" font-weight="normal" font-style="normal" fill="#111" text-anchor="start" >ATCC 9027 on wing</text>
<text x="397.00" y="643.80" font-family="Liberation Serif, serif" font-size="17" font-weight="bold" font-style="normal" fill="#000" text-anchor="start" >d</text>
<polyline points="432.7,800.6 524.7,752.8 616.2,801.8" fill="none" stroke="#e4e4e4" stroke-width="0.8"/>
<polyline points="431.1,783.2 524.6,736.8 617.6,784.5" fill="none" stroke="#e4e4e4" stroke-width="0.8"/>
<polyline points="429.4,765.3 524.5,720.2 619.1,766.7" fill="none" stroke="#e4e4e4" stroke-width="0.8"/>
<polyline points="427.6,746.8 524.4,703.1 620.6,748.2" fill="none" stroke="#e4e4e4" stroke-width="0.8"/>
<polyline points="425.8,727.7 524.3,685.5 622.2,729.1" fill="none" stroke="#e4e4e4" stroke-width="0.8"/>
<polyline points="424.0,707.8 524.2,667.3 623.9,709.3" fill="none" stroke="#e4e4e4" stroke-width="0.8"/>
<polyline points="422.0,687.2 524.1,648.6 625.6,688.8" fill="none" stroke="#e4e4e4" stroke-width="0.8"/>
<polyline points="421.7,684.1 524.1,645.7 625.8,685.6" fill="none" stroke="#6a6a6a" stroke-width="1"/>
<line x1="433.49" y1="809.00" x2="421.72" y2="684.07" stroke="#909090" stroke-width="1" />
<line x1="524.73" y1="760.72" x2="524.12" y2="645.70" stroke="#b0b0b0" stroke-width="1" />
<polygon points="506.0,770.6 503.5,663.0 550.8,682.7 587.9,704.2 597.9,736.3 600.2,756.1 595.9,822.1" fill="#922396" stroke="#922396" stroke-width="0.4" />
<polygon points="595.9,822.1 600.2,756.1 617.6,745.9 612.4,811.0" fill="#982499" stroke="#982499" stroke-width="0.4" />
<polygon points="506.0,770.6 522.7,761.8 612.4,811.0 595.9,822.1" fill="#9e2ca4" stroke="#9e2ca4" stroke-width="0.4" />
<polygon points="503.5,663.0 521.9,655.9 569.2,674.6 550.8,682.7" fill="#a02aa6" stroke="#a02aa6" stroke-width="0.4" />
<polygon points="550.8,682.7 569.2,674.6 606.1,695.2 587.9,704.2" fill="#a02aa6" stroke="#a02aa6" stroke-width="0.4" />
<polygon points="587.9,704.2 606.1,695.2 615.6,726.5 597.9,736.3" fill="#a02aa6" stroke="#a02aa6" stroke-width="0.4" />
<polygon points="597.9,736.3 615.6,726.5 617.6,745.9 600.2,756.1" fill="#86088a" stroke="#86088a" stroke-width="0.4" />
<polygon points="506.0,770.6 503.5,663.0 521.9,655.9 522.7,761.8" fill="#84128a" stroke="#84128a" stroke-width="0.4" />
<polygon points="522.7,761.8 521.9,655.9 526.4,657.7 526.8,764.0" fill="#a63cac" stroke="#a63cac" stroke-width="0.4" />
<polyline points="503.51,663.04 550.81,682.73 587.93,704.20 597.90,736.27 600.18,756.09" fill="none" stroke="#1a1a1a" stroke-width="0.6" stroke-linejoin="round" />
<polyline points="521.93,655.91 569.19,674.64 606.09,695.20 615.62,726.51 617.63,745.94" fill="none" stroke="#1a1a1a" stroke-width="0.5" stroke-linejoin="round" />
<line x1="503.51" y1="663.04" x2="521.93" y2="655.91" stroke="#1a1a1a" stroke-width="0.5" />
<line x1="550.81" y1="682.73" x2="569.19" y2="674.64" stroke="#1a1a1a" stroke-width="0.5" />
<line x1="587.93" y1="704.20" x2="606.09" y2="695.20" stroke="#1a1a1a" stroke-width="0.5" />
<line x1="597.90" y1="736.27" x2="615.62" y2="726.51" stroke="#1a1a1a" stroke-width="0.5" />
<line x1="600.18" y1="756.09" x2="617.63" y2="745.94" stroke="#1a1a1a" stroke-width="0.5" />
<line x1="505.98" y1="770.64" x2="503.51" y2="663.04" stroke="#1a1a1a" stroke-width="0.5" />
<line x1="595.92" y1="822.14" x2="600.18" y2="756.09" stroke="#1a1a1a" stroke-width="0.6" />
<line x1="612.43" y1="810.98" x2="617.63" y2="745.94" stroke="#1a1a1a" stroke-width="0.5" />
<polygon points="484.0,782.3 479.5,678.8 526.5,704.3 563.9,712.6 575.0,734.2 579.2,719.2 574.1,836.9" fill="#1000f0" stroke="#1000f0" stroke-width="0.4" />
<polygon points="574.1,836.9 579.2,719.2 598.7,709.3 591.7,825.0" fill="#1808f8" stroke="#1808f8" stroke-width="0.4" />
<polygon points="484.0,782.3 501.7,772.9 591.7,825.0 574.1,836.9" fill="#3a3aff" stroke="#3a3aff" stroke-width="0.4" />
<polygon points="479.5,678.8 498.9,671.1 545.9,695.5 526.5,704.3" fill="#1a10ff" stroke="#1a10ff" stroke-width="0.4" />
<polygon points="526.5,704.3 545.9,695.5 583.4,703.1 563.9,712.6" fill="#1a10ff" stroke="#1a10ff" stroke-width="0.4" />
<polygon points="563.9,712.6 583.4,703.1 594.2,724.0 575.0,734.2" fill="#1a10ff" stroke="#1a10ff" stroke-width="0.4" />
<polygon points="575.0,734.2 594.2,724.0 598.7,709.3 579.2,719.2" fill="#2020ff" stroke="#2020ff" stroke-width="0.4" />
<polygon points="484.0,782.3 479.5,678.8 498.9,671.1 501.7,772.9" fill="#1000ea" stroke="#1000ea" stroke-width="0.4" />
<polygon points="501.7,772.9 498.9,671.1 503.4,673.5 505.8,775.3" fill="#4444ff" stroke="#4444ff" stroke-width="0.4" />
<polyline points="479.46,678.85 526.48,704.32 563.89,712.63 574.96,734.18 579.22,719.21" fill="none" stroke="#1a1a1a" stroke-width="0.6" stroke-linejoin="round" />
<polyline points="498.93,671.15 545.92,695.48 583.39,703.07 594.16,724.02 598.67,709.28" fill="none" stroke="#1a1a1a" stroke-width="0.5" stroke-linejoin="round" />
<line x1="479.46" y1="678.85" x2="498.93" y2="671.15" stroke="#1a1a1a" stroke-width="0.5" />
<line x1="526.48" y1="704.32" x2="545.92" y2="695.48" stroke="#1a1a1a" stroke-width="0.5" />
<line x1="563.89" y1="712.63" x2="583.39" y2="703.07" stroke="#1a1a1a" stroke-width="0.5" />
<line x1="574.96" y1="734.18" x2="594.16" y2="724.02" stroke="#1a1a1a" stroke-width="0.5" />
<line x1="579.22" y1="719.21" x2="598.67" y2="709.28" stroke="#1a1a1a" stroke-width="0.5" />
<line x1="484.01" y1="782.27" x2="479.46" y2="678.85" stroke="#1a1a1a" stroke-width="0.5" />
<line x1="574.08" y1="836.91" x2="579.22" y2="719.21" stroke="#1a1a1a" stroke-width="0.6" />
<line x1="591.66" y1="825.02" x2="598.67" y2="709.28" stroke="#1a1a1a" stroke-width="0.5" />
<polygon points="460.7,794.6 454.1,695.2 501.4,743.0 537.8,736.1 549.2,756.2 553.0,745.2 550.8,852.7" fill="#066e22" stroke="#066e22" stroke-width="0.4" />
<polygon points="550.8,852.7 553.0,745.2 573.7,734.3 569.5,840.0" fill="#087022" stroke="#087022" stroke-width="0.4" />
<polygon points="460.7,794.6 479.5,784.7 569.5,840.0 550.8,852.7" fill="#259a2a" stroke="#259a2a" stroke-width="0.4" />
<polygon points="454.1,695.2 474.7,686.9 521.7,733.0 501.4,743.0" fill="#0b7c1c" stroke="#0b7c1c" stroke-width="0.4" />
<polygon points="501.4,743.0 521.7,733.0 558.6,725.7 537.8,736.1" fill="#0b7c1c" stroke="#0b7c1c" stroke-width="0.4" />
<polygon points="537.8,736.1 558.6,725.7 569.7,745.1 549.2,756.2" fill="#0b7c1c" stroke="#0b7c1c" stroke-width="0.4" />
<polygon points="549.2,756.2 569.7,745.1 573.7,734.3 553.0,745.2" fill="#0a8c0a" stroke="#0a8c0a" stroke-width="0.4" />
<polygon points="460.7,794.6 454.1,695.2 474.7,686.9 479.5,784.7" fill="#0a870a" stroke="#0a870a" stroke-width="0.4" />
<polygon points="479.5,784.7 474.7,686.9 479.2,691.4 483.5,787.2" fill="#2a9a2a" stroke="#2a9a2a" stroke-width="0.4" />
<polyline points="454.10,695.24 501.37,742.97 537.82,736.15 549.23,756.18 553.01,745.25" fill="none" stroke="#1a1a1a" stroke-width="0.6" stroke-linejoin="round" />
<polyline points="474.73,686.92 521.66,733.03 558.57,725.66 569.69,745.11 573.69,734.32" fill="none" stroke="#1a1a1a" stroke-width="0.5" stroke-linejoin="round" />
<line x1="454.10" y1="695.24" x2="474.73" y2="686.92" stroke="#1a1a1a" stroke-width="0.5" />
<line x1="501.37" y1="742.97" x2="521.66" y2="733.03" stroke="#1a1a1a" stroke-width="0.5" />
<line x1="537.82" y1="736.15" x2="558.57" y2="725.66" stroke="#1a1a1a" stroke-width="0.5" />
<line x1="549.23" y1="756.18" x2="569.69" y2="745.11" stroke="#1a1a1a" stroke-width="0.5" />
<line x1="553.01" y1="745.25" x2="573.69" y2="734.32" stroke="#1a1a1a" stroke-width="0.5" />
<line x1="460.74" y1="794.58" x2="454.10" y2="695.24" stroke="#1a1a1a" stroke-width="0.5" />
<line x1="550.78" y1="852.66" x2="553.01" y2="745.25" stroke="#1a1a1a" stroke-width="0.6" />
<line x1="569.54" y1="839.98" x2="573.69" y2="734.32" stroke="#1a1a1a" stroke-width="0.5" />
<polygon points="436.0,807.7 433.4,778.5 478.2,828.8 511.5,822.2 522.6,854.1 525.7,832.5 525.9,869.5" fill="#ff2222" stroke="#ff2222" stroke-width="0.4" />
<polygon points="433.4,778.5 453.9,768.4 498.4,817.0 478.2,828.8" fill="#e81212" stroke="#e81212" stroke-width="0.4" />
<polygon points="478.2,828.8 498.4,817.0 532.3,809.7 511.5,822.2" fill="#e81212" stroke="#e81212" stroke-width="0.4" />
<polygon points="511.5,822.2 532.3,809.7 542.9,840.8 522.6,854.1" fill="#e51010" stroke="#e51010" stroke-width="0.4" />
<polygon points="522.6,854.1 542.9,840.8 546.5,819.5 525.7,832.5" fill="#ff0808" stroke="#ff0808" stroke-width="0.4" />
<polygon points="525.9,869.5 525.7,832.5 546.5,819.5 545.9,855.9" fill="#ff0808" stroke="#ff0808" stroke-width="0.4" />
<polygon points="436.0,807.7 433.4,778.5 453.9,768.4 455.9,797.1" fill="#ff2424" stroke="#ff2424" stroke-width="0.4" />
<polygon points="455.9,797.1 453.9,768.4 458.1,773.1 460.0,799.8" fill="#ff3c3c" stroke="#ff3c3c" stroke-width="0.4" />
<polyline points="433.37,778.49 478.17,828.83 511.47,822.19 522.56,854.09" fill="none" stroke="#1a1a1a" stroke-width="0.6" stroke-linejoin="round" />
<polyline points="453.86,768.40 498.37,817.03 532.31,809.66" fill="none" stroke="#1a1a1a" stroke-width="0.5" stroke-linejoin="round" />
<line x1="433.37" y1="778.49" x2="453.86" y2="768.40" stroke="#1a1a1a" stroke-width="0.5" />
<line x1="478.17" y1="828.83" x2="498.37" y2="817.03" stroke="#1a1a1a" stroke-width="0.5" />
<line x1="511.47" y1="822.19" x2="532.31" y2="809.66" stroke="#1a1a1a" stroke-width="0.5" />
<line x1="525.70" y1="832.55" x2="546.51" y2="819.51" stroke="#1a1a1a" stroke-width="0.5" />
<line x1="436.05" y1="807.65" x2="433.37" y2="778.49" stroke="#1a1a1a" stroke-width="0.5" />
<line x1="525.87" y1="869.50" x2="525.70" y2="832.55" stroke="#1a1a1a" stroke-width="0.6" />
<line x1="545.94" y1="855.94" x2="546.51" y2="819.51" stroke="#1a1a1a" stroke-width="0.5" />
<line x1="523.11" y1="872.84" x2="514.15" y2="878.92" stroke="#000" stroke-width="0.9" />
<line x1="512.50" y1="865.46" x2="507.78" y2="868.57" stroke="#000" stroke-width="0.9" />
<line x1="502.18" y1="858.29" x2="493.23" y2="864.02" stroke="#000" stroke-width="0.9" />
<line x1="492.15" y1="851.31" x2="487.44" y2="854.24" stroke="#000" stroke-width="0.9" />
<line x1="482.39" y1="844.52" x2="473.46" y2="849.94" stroke="#000" stroke-width="0.9" />
<line x1="472.89" y1="837.91" x2="468.19" y2="840.68" stroke="#000" stroke-width="0.9" />
<line x1="463.64" y1="831.47" x2="454.74" y2="836.61" stroke="#000" stroke-width="0.9" />
<line x1="454.63" y1="825.21" x2="449.95" y2="827.84" stroke="#000" stroke-width="0.9" />
<line x1="445.85" y1="819.10" x2="436.99" y2="823.97" stroke="#000" stroke-width="0.9" />
<line x1="437.29" y1="813.15" x2="432.64" y2="815.65" stroke="#000" stroke-width="0.9" />
<text x="0.00" y="0.00" font-family="Liberation Sans, sans-serif" font-size="10.5" font-weight="normal" font-style="normal" fill="#000" text-anchor="middle"  dominant-baseline="central" transform="matrix(0.8764 -0.4815 0.8218 0.5698 434.70 828.50)">40</text>
<text x="0.00" y="0.00" font-family="Liberation Sans, sans-serif" font-size="10.5" font-weight="normal" font-style="normal" fill="#000" text-anchor="middle"  dominant-baseline="central" transform="matrix(0.8662 -0.4997 0.8218 0.5698 451.70 841.90)">30</text>
<text x="0.00" y="0.00" font-family="Liberation Sans, sans-serif" font-size="10.5" font-weight="normal" font-style="normal" fill="#000" text-anchor="middle"  dominant-baseline="central" transform="matrix(0.8548 -0.5190 0.8218 0.5698 469.40 856.10)">20</text>
<text x="0.00" y="0.00" font-family="Liberation Sans, sans-serif" font-size="10.5" font-weight="normal" font-style="normal" fill="#000" text-anchor="middle"  dominant-baseline="central" transform="matrix(0.8420 -0.5395 0.8218 0.5698 490.70 871.00)">10</text>
<text x="0.00" y="0.00" font-family="Liberation Sans, sans-serif" font-size="10.4" font-weight="bold" font-style="normal" fill="#000" text-anchor="middle"  dominant-baseline="central" transform="matrix(0.7600 0.6500 -0.8984 0.4392 445.60 857.60)">Incubation time (h)</text>
<line x1="537.12" y1="863.35" x2="544.94" y2="868.60" stroke="#000" stroke-width="0.9" />
<line x1="549.44" y1="854.99" x2="553.59" y2="857.68" stroke="#000" stroke-width="0.9" />
<line x1="561.36" y1="846.91" x2="569.16" y2="851.82" stroke="#000" stroke-width="0.9" />
<line x1="572.89" y1="839.09" x2="577.03" y2="841.61" stroke="#000" stroke-width="0.9" />
<line x1="584.05" y1="831.52" x2="591.82" y2="836.13" stroke="#000" stroke-width="0.9" />
<line x1="594.86" y1="824.19" x2="598.98" y2="826.56" stroke="#000" stroke-width="0.9" />
<line x1="605.34" y1="817.09" x2="613.06" y2="821.41" stroke="#000" stroke-width="0.9" />
<line x1="615.49" y1="810.20" x2="619.58" y2="812.43" stroke="#000" stroke-width="0.9" />
<text x="0.00" y="0.00" font-family="Liberation Sans, sans-serif" font-size="9.1" font-weight="normal" font-style="normal" fill="#000" text-anchor="middle" stroke="#000" stroke-width="0.2" dominant-baseline="central" transform="matrix(0.8306 0.5569 -0.6926 0.7213 574.10 897.00)">PAO1 on wing</text>
<text x="0.00" y="0.00" font-family="Liberation Sans, sans-serif" font-size="9.1" font-weight="normal" font-style="normal" fill="#000" text-anchor="middle" stroke="#000" stroke-width="0.2" dominant-baseline="central" transform="matrix(0.8465 0.5324 -0.6713 0.7411 608.20 885.90)">ATCC 9027 on wing</text>
<text x="0.00" y="0.00" font-family="Liberation Sans, sans-serif" font-size="9.1" font-weight="normal" font-style="normal" fill="#000" text-anchor="middle" stroke="#000" stroke-width="0.2" dominant-baseline="central" transform="matrix(0.8603 0.5098 -0.6514 0.7587 629.40 865.30)">PAO1 on coverslip</text>
<text x="0.00" y="0.00" font-family="Liberation Sans, sans-serif" font-size="9.1" font-weight="normal" font-style="normal" fill="#000" text-anchor="middle" stroke="#000" stroke-width="0.2" dominant-baseline="central" transform="matrix(0.8725 0.4886 -0.6327 0.7744 659.90 854.10)">ATCC 9027 on coverslip</text>
<line x1="615.49" y1="810.20" x2="624.75" y2="815.25" stroke="#000" stroke-width="0.9" />
<line x1="616.19" y1="801.78" x2="621.35" y2="804.54" stroke="#000" stroke-width="0.9" />
<line x1="616.90" y1="793.22" x2="626.32" y2="798.16" stroke="#000" stroke-width="0.9" />
<line x1="617.62" y1="784.52" x2="622.88" y2="787.22" stroke="#000" stroke-width="0.9" />
<line x1="618.35" y1="775.67" x2="627.96" y2="780.49" stroke="#000" stroke-width="0.9" />
<line x1="619.10" y1="766.67" x2="624.46" y2="769.30" stroke="#000" stroke-width="0.9" />
<line x1="619.86" y1="757.52" x2="629.64" y2="762.22" stroke="#000" stroke-width="0.9" />
<line x1="620.63" y1="748.20" x2="626.09" y2="750.76" stroke="#000" stroke-width="0.9" />
<line x1="621.42" y1="738.73" x2="631.39" y2="743.29" stroke="#000" stroke-width="0.9" />
<line x1="622.22" y1="729.09" x2="627.78" y2="731.57" stroke="#000" stroke-width="0.9" />
<line x1="623.03" y1="719.28" x2="633.20" y2="723.69" stroke="#000" stroke-width="0.9" />
<line x1="623.86" y1="709.30" x2="629.53" y2="711.69" stroke="#000" stroke-width="0.9" />
<line x1="624.70" y1="699.13" x2="635.08" y2="703.38" stroke="#000" stroke-width="0.9" />
<line x1="625.56" y1="688.78" x2="631.35" y2="691.08" stroke="#000" stroke-width="0.9" />
<text x="0.00" y="0.00" font-family="Liberation Sans, sans-serif" font-size="10.5" font-weight="normal" font-style="normal" fill="#000" text-anchor="middle"  dominant-baseline="central" transform="matrix(0.8780 0.4787 -0.0826 0.9966 626.70 817.40)">0</text>
<text x="0.00" y="0.00" font-family="Liberation Sans, sans-serif" font-size="10.5" font-weight="normal" font-style="normal" fill="#000" text-anchor="middle"  dominant-baseline="central" transform="matrix(0.8857 0.4643 -0.0826 0.9966 628.30 800.40)">2</text>
<text x="0.00" y="0.00" font-family="Liberation Sans, sans-serif" font-size="10.5" font-weight="normal" font-style="normal" fill="#000" text-anchor="middle"  dominant-baseline="central" transform="matrix(0.8935 0.4490 -0.0826 0.9966 630.70 783.40)">4</text>
<text x="0.00" y="0.00" font-family="Liberation Sans, sans-serif" font-size="10.5" font-weight="normal" font-style="normal" fill="#000" text-anchor="middle"  dominant-baseline="central" transform="matrix(0.9014 0.4329 -0.0826 0.9966 632.30 764.80)">6</text>
<text x="0.00" y="0.00" font-family="Liberation Sans, sans-serif" font-size="10.5" font-weight="normal" font-style="normal" fill="#000" text-anchor="middle"  dominant-baseline="central" transform="matrix(0.9094 0.4158 -0.0826 0.9966 633.90 746.30)">8</text>
<text x="0.00" y="0.00" font-family="Liberation Sans, sans-serif" font-size="10.5" font-weight="normal" font-style="normal" fill="#000" text-anchor="middle"  dominant-baseline="central" transform="matrix(0.9175 0.3978 -0.0826 0.9966 638.90 728.40)">10</text>
<text x="0.00" y="0.00" font-family="Liberation Sans, sans-serif" font-size="10.5" font-weight="normal" font-style="normal" fill="#000" text-anchor="middle"  dominant-baseline="central" transform="matrix(0.9256 0.3786 -0.0826 0.9966 641.10 708.50)">12</text>
<text x="0.00" y="0.00" font-family="Liberation Sans, sans-serif" font-size="11.6" font-weight="bold" font-style="normal" fill="#000" text-anchor="middle"  dominant-baseline="central" transform="matrix(0.0826 -0.9966 0.9040 0.4275 654.00 767.50)">x10^4 cells / sq.cm</text>
<line x1="441.60" y1="757.20" x2="441.60" y2="763.60" stroke="#000" stroke-width="1.3" />
<line x1="438.70" y1="759.05" x2="444.50" y2="761.75" stroke="#000" stroke-width="1.3" />
<line x1="438.70" y1="761.75" x2="444.50" y2="759.05" stroke="#000" stroke-width="1.3" />
<line x1="432.26" y1="809.65" x2="523.11" y2="872.84" stroke="#000" stroke-width="1" />
<line x1="523.11" y1="872.84" x2="615.49" y2="810.20" stroke="#000" stroke-width="1" />
<line x1="615.49" y1="810.20" x2="625.82" y2="685.64" stroke="#000" stroke-width="1" />
</svg>
</body></html>
